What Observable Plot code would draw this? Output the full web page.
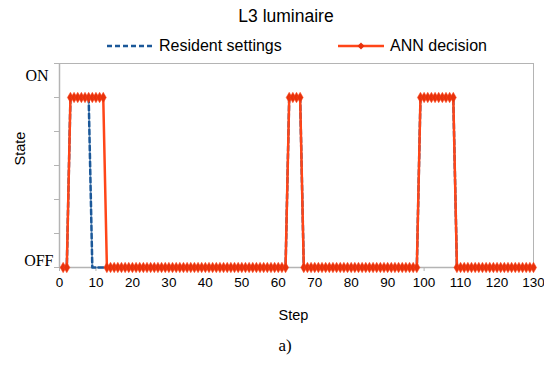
<!DOCTYPE html>
<html>
<head>
<meta charset="utf-8">
<script src="https://cdn.jsdelivr.net/npm/d3@7"></script>
<script src="https://cdn.jsdelivr.net/npm/@observablehq/plot@0.6"></script>
<style>
  html, body { margin: 0; padding: 0; background: #fff; }
  #wrap { position: relative; width: 544px; height: 378px; font-family: "Liberation Sans", Arial, sans-serif; color: #000; }
  #title { position: absolute; left: 0; width: 544px; top: 5px; line-height: 22px; font-size: 17.5px; text-align: center; padding-left: 28px; box-sizing: border-box; }
  #legend { position: absolute; top: 35px; left: 0; width: 544px; height: 22px; font-size: 16px; line-height: 22px; }
  .item { position: absolute; top: 0; white-space: nowrap; }
  .item svg { vertical-align: middle; position: relative; top: -1px; }
  #chart { position: absolute; left: 0; top: 58px; }
  #cap { position: absolute; left: 0; width: 544px; top: 336px; text-align: center; font-family: "Liberation Serif", "Times New Roman", serif; font-size: 17px; line-height: 20px; padding-left: 26px; box-sizing: border-box; }
</style>
</head>
<body>
<div id="wrap">
  <div id="title"></div>
  <div id="legend"></div>
  <div id="chart"></div>
  <div id="cap">a)</div>
</div>
<script>
// ---- data ----
const titleText = "L3 luminaire";
const seriesNames = ["Resident settings", "ANN decision"];
const xTicks = [0, 10, 20, 30, 40, 50, 60, 70, 80, 90, 100, 110, 120, 130];
const yTicks = [0, 0.2, 0.4, 0.6, 0.8, 1.0, 1.2];
const yLabelOff = [{v: 0, label: "OFF"}];
const yLabelOn = [{v: 1.2, label: "ON"}];

// ANN decision state per step (1..130), 1 = ON, 0 = OFF
const annDecision = [
  0,0,1,1,1,1,1,1,1,1,
  1,1,0,0,0,0,0,0,0,0,
  0,0,0,0,0,0,0,0,0,0,
  0,0,0,0,0,0,0,0,0,0,
  0,0,0,0,0,0,0,0,0,0,
  0,0,0,0,0,0,0,0,0,0,
  0,0,1,1,1,1,0,0,0,0,
  0,0,0,0,0,0,0,0,0,0,
  0,0,0,0,0,0,0,0,0,0,
  0,0,0,0,0,0,0,0,1,1,
  1,1,1,1,1,1,1,1,0,0,
  0,0,0,0,0,0,0,0,0,0,
  0,0,0,0,0,0,0,0,0,0
];
// Resident settings state per step (1..130)
const residentSettings = [
  0,0,1,1,1,1,1,1,0,0,
  0,0,0,0,0,0,0,0,0,0,
  0,0,0,0,0,0,0,0,0,0,
  0,0,0,0,0,0,0,0,0,0,
  0,0,0,0,0,0,0,0,0,0,
  0,0,0,0,0,0,0,0,0,0,
  0,0,1,1,1,1,0,0,0,0,
  0,0,0,0,0,0,0,0,0,0,
  0,0,0,0,0,0,0,0,0,0,
  0,0,0,0,0,0,0,0,1,1,
  1,1,1,1,1,1,1,1,0,0,
  0,0,0,0,0,0,0,0,0,0,
  0,0,0,0,0,0,0,0,0,0
];

// ---- styles ----
const red = "#ff4518";
const redMarker = "#e8320c";
const blue = "#1b5899";
const gray = "#b4b4b4";

const ann = annDecision.map((v, i) => ({step: i + 1, v}));
const res = residentSettings.map((v, i) => ({step: i + 1, v}));

document.getElementById("title").textContent = titleText;

// legend
const legend = document.getElementById("legend");
legend.innerHTML =
  `<div class="item" style="left:106px"><svg width="48" height="8"><line x1="1" x2="47" y1="4" y2="4" stroke="${blue}" stroke-width="2.5" stroke-dasharray="5,3"/></svg><span style="margin-left:5px">${seriesNames[0]}</span></div>` +
  `<div class="item" style="left:337px"><svg width="48" height="8"><line x1="1" x2="47" y1="4" y2="4" stroke="${red}" stroke-width="2.5"/><path d="M24,0.5L27.5,4L24,7.5L20.5,4Z" fill="${redMarker}"/></svg><span style="margin-left:5px">${seriesNames[1]}</span></div>`;

const chart = Plot.plot({
  width: 544,
  height: 270,
  marginLeft: 59,
  marginRight: 11,
  marginTop: 5,
  marginBottom: 61,
  style: {fontFamily: "Liberation Sans, Arial, sans-serif", fontSize: "13.5px", color: "#000", background: "transparent", overflow: "visible"},
  x: {domain: [0, 130]},
  y: {domain: [0, 1.2]},
  marks: [
    Plot.frame({stroke: gray, strokeWidth: 1}),
    Plot.axisX({ticks: xTicks, tickSize: 4, tickPadding: 6, stroke: gray, fill: "#000", label: null}),
    Plot.axisY({ticks: yTicks, tickSize: 5, stroke: gray, tickFormat: () => "", label: null}),
    Plot.ruleY([0], {stroke: gray, strokeWidth: 1.5}),
    Plot.ruleX([0], {stroke: gray, strokeWidth: 1.5}),
    Plot.text(yLabelOff, {y: "v", text: "label", frameAnchor: "left", textAnchor: "end", dx: -6, dy: -7, fontFamily: "Liberation Serif, Times New Roman, serif", fontSize: 16}),
    Plot.text(yLabelOn, {y: "v", text: "label", frameAnchor: "left", textAnchor: "end", dx: -11, dy: 12, fontFamily: "Liberation Serif, Times New Roman, serif", fontSize: 16}),
    Plot.text(["Step"], {frameAnchor: "bottom", lineAnchor: "middle", dy: 48, dx: -3, fontSize: 14.5}),
    Plot.text(["State"], {frameAnchor: "left", rotate: -90, dx: -39, fontSize: 14.5}),
    Plot.line(res, {x: "step", y: "v", stroke: blue, strokeWidth: 2.5, strokeDasharray: "5,3"}),
    Plot.line(ann, {x: "step", y: "v", stroke: red, strokeWidth: 2.5}),
    Plot.dot(ann, {x: "step", y: "v", symbol: "diamond", r: 3.2, fill: redMarker, stroke: red, strokeWidth: 0.5})
  ]
});
document.getElementById("chart").appendChild(chart);
</script>
</body>
</html>
